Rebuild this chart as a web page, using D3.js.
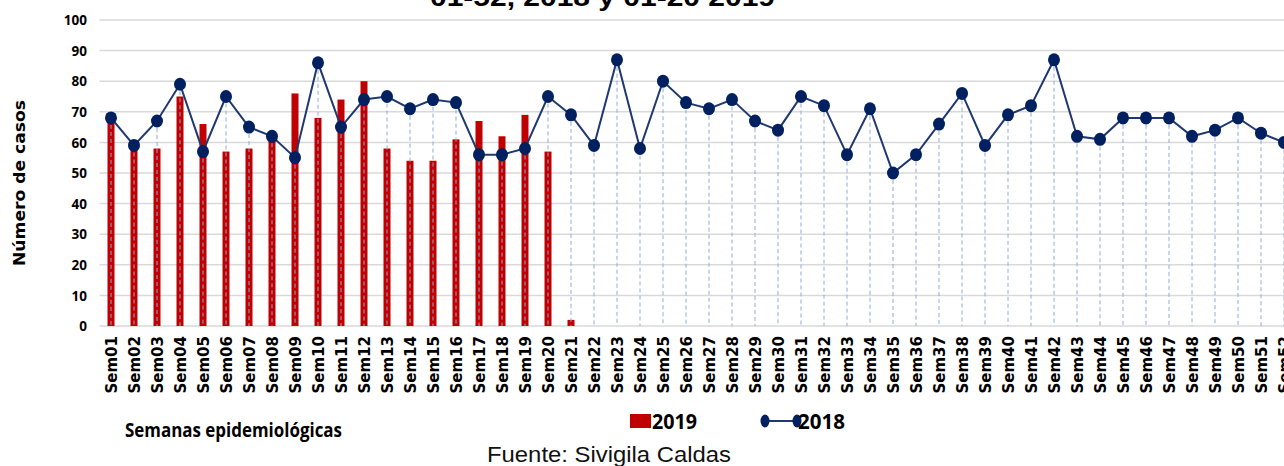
<!DOCTYPE html>
<html><head><meta charset="utf-8">
<script src="https://cdn.jsdelivr.net/npm/d3@7"></script>
<style>body{margin:0;background:#fff;}svg{display:block;}</style>
</head><body>
<svg id="c" width="1284" height="466"></svg>
<script>
const weeks = Array.from({length:52},(_,i)=>"Sem"+String(i+1).padStart(2,"0"));
const values2018 = [68,59,67,79,57,75,65,62,55,86,65,74,75,71,74,73,56,56,58,75,69,59,87,58,80,73,71,74,67,64,75,72,56,71,50,56,66,76,59,69,72,87,62,61,68,68,68,62,64,68,63,60];
const values2019 = [68,60,58,75,66,57,58,62,76,68,74,80,58,54,54,61,67,62,69,57,2];
const yTicks = [0,10,20,30,40,50,60,70,80,90,100];

const svg = d3.select("#c");
const m = {left:99.5, top:20, bottom:326};
const x = d3.scaleBand().domain(weeks).range([m.left, m.left+52*23]).padding(0);
const y = d3.scaleLinear().domain([0,100]).range([m.bottom, m.top]);
const cx = d => x(d)+x.bandwidth()/2;

// title (clipped at the top, as in the reference)
svg.append("text").attr("x",430).attr("y",6)
  .attr("font-family","Liberation Sans, Arial").attr("font-weight","bold").attr("font-size",25)
  .attr("textLength",345).attr("lengthAdjust","spacingAndGlyphs")
  .attr("fill","#000").text("01-52, 2018 y  01-20 2019");

// grid
svg.append("g").selectAll("line").data(yTicks).join("line")
  .attr("x1",m.left).attr("x2",1284).attr("y1",d=>y(d)).attr("y2",d=>y(d))
  .attr("stroke","#d9d9d9").attr("stroke-width",1.5);

// y axis labels
const yAxis = d3.axisLeft(y).tickValues(yTicks).tickSize(0).tickPadding(0);
const ga = svg.append("g").attr("transform","translate(87,0)").call(yAxis);
ga.select(".domain").remove();
ga.selectAll("text").attr("font-family","Open Sans, DejaVu Sans").attr("font-weight","bold")
  .attr("font-size",13.5).attr("fill","#000").attr("dy","0.35em");

// bars
const bw = 7;
svg.append("g").selectAll("rect").data(values2019).join("rect")
  .attr("x",(d,i)=>cx(weeks[i])-bw/2).attr("width",bw)
  .attr("y",d=>y(d)).attr("height",d=>y(0)-y(d)).attr("fill","#C00000");

// drop lines
svg.append("g").selectAll("line").data(values2018).join("line")
  .attr("x1",(d,i)=>cx(weeks[i])).attr("x2",(d,i)=>cx(weeks[i]))
  .attr("y1",d=>y(d)).attr("y2",y(0))
  .attr("stroke","#8faadc").attr("stroke-width",1).attr("stroke-dasharray","4,3");

// line
const line = d3.line().x((d,i)=>cx(weeks[i])).y(d=>y(d));
svg.append("path").datum(values2018).attr("d",line).attr("fill","none")
  .attr("stroke","#1f3870").attr("stroke-width",2);
svg.append("g").selectAll("ellipse").data(values2018).join("ellipse")
  .attr("cx",(d,i)=>cx(weeks[i])).attr("cy",d=>y(d)).attr("rx",6).attr("ry",6.5)
  .attr("fill","#002060");

// x labels
svg.append("g").selectAll("text").data(weeks).join("text")
  .attr("transform",d=>`translate(${cx(d)+5.5},336) rotate(-90)`)
  .attr("text-anchor","end")
  .attr("font-family","DejaVu Sans").attr("font-weight","bold").attr("font-size",15)
  .attr("fill","#000").text(d=>d);

// y title
svg.append("text").attr("transform","translate(25,183) rotate(-90)").attr("text-anchor","middle")
  .attr("font-family","DejaVu Sans").attr("font-weight","bold").attr("font-size",15)
  .attr("textLength",166).attr("lengthAdjust","spacingAndGlyphs")
  .attr("fill","#000").text("Número de casos");

// x title
svg.append("text").attr("x",125).attr("y",437)
  .attr("font-family","Open Sans, Liberation Sans").attr("font-weight","bold").attr("font-size",20)
  .attr("textLength",217).attr("lengthAdjust","spacingAndGlyphs")
  .attr("fill","#000").text("Semanas epidemiológicas");

// legend
svg.append("rect").attr("x",630).attr("y",414).attr("width",21).attr("height",14).attr("fill","#C00000");
svg.append("text").attr("x",652).attr("y",429)
  .attr("font-family","Open Sans, Liberation Sans").attr("font-weight","bold").attr("font-size",22)
  .attr("textLength",45).attr("lengthAdjust","spacingAndGlyphs")
  .attr("fill","#000").text("2019");
svg.append("line").attr("x1",765).attr("x2",797).attr("y1",421).attr("y2",421).attr("stroke","#1f3870").attr("stroke-width",2);
svg.append("ellipse").attr("cx",765).attr("cy",421).attr("rx",4.5).attr("ry",6.5).attr("fill","#002060");
svg.append("ellipse").attr("cx",797).attr("cy",421).attr("rx",4.5).attr("ry",6.5).attr("fill","#002060");
svg.append("text").attr("x",798).attr("y",429)
  .attr("font-family","Open Sans, Liberation Sans").attr("font-weight","bold").attr("font-size",22)
  .attr("textLength",47).attr("lengthAdjust","spacingAndGlyphs")
  .attr("fill","#000").text("2018");

// source
svg.append("text").attr("x",487).attr("y",462)
  .attr("font-family","Liberation Sans, Arial").attr("font-size",22)
  .attr("textLength",244).attr("lengthAdjust","spacingAndGlyphs")
  .attr("fill","#111").text("Fuente: Sivigila Caldas");
</script>
</body></html>
